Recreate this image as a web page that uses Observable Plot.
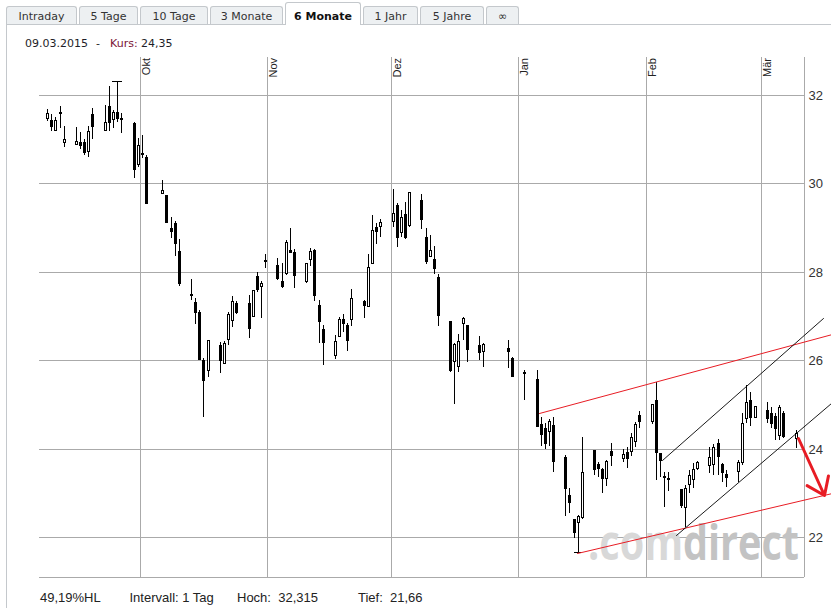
<!DOCTYPE html>
<html><head><meta charset="utf-8">
<script src="https://cdn.jsdelivr.net/npm/d3@7"></script>
<script src="https://cdn.jsdelivr.net/npm/@observablehq/plot@0.6"></script>
<style>
body{margin:0;background:#fff;width:831px;height:608px;overflow:hidden;position:relative;font-family:"DejaVu Sans",Verdana,sans-serif;}
#chart{position:absolute;left:0;top:0;}
.tab{position:absolute;top:6px;height:18px;box-sizing:border-box;border:1px solid #c4c8cc;border-bottom:none;border-radius:3px 3px 0 0;background:#edf0f2;font-size:11px;line-height:17px;padding-top:1px;text-align:center;color:#333;z-index:2;}
.tab.active{top:2px;height:23px;background:#fff;font-weight:bold;color:#111;padding-top:5px;z-index:4;}
.ptop{position:absolute;left:6px;right:0;top:24px;height:0;border-top:1px solid #c4c8cc;z-index:3;}
.pleft{position:absolute;left:6px;top:24px;bottom:0;width:0;border-left:1px solid #c4c8cc;z-index:3;}
</style>
</head><body>
<div id="chart"></div>
<div class="ptop"></div><div class="pleft"></div>
<div class="tab" style="left:6px;width:71px">Intraday</div>
<div class="tab" style="left:79px;width:59px">5 Tage</div>
<div class="tab" style="left:140px;width:68px">10 Tage</div>
<div class="tab" style="left:210px;width:73px">3 Monate</div>
<div class="tab active" style="left:285px;width:76px">6 Monate</div>
<div class="tab" style="left:363px;width:55px">1 Jahr</div>
<div class="tab" style="left:420px;width:64px">5 Jahre</div>
<div class="tab" style="left:486px;width:33px">∞</div>
<script>
// ---- data ----
const dates = ["2014-09-08","2014-09-09","2014-09-10","2014-09-11","2014-09-12",
"2014-09-15","2014-09-16","2014-09-17","2014-09-18","2014-09-19",
"2014-09-22","2014-09-23","2014-09-24","2014-09-25","2014-09-26",
"2014-09-29","2014-09-30","2014-10-01","2014-10-02",
"2014-10-06","2014-10-07","2014-10-08","2014-10-09","2014-10-10",
"2014-10-13","2014-10-14","2014-10-15","2014-10-16","2014-10-17",
"2014-10-20","2014-10-21","2014-10-22","2014-10-23","2014-10-24",
"2014-10-27","2014-10-28","2014-10-29","2014-10-30","2014-10-31",
"2014-11-03","2014-11-04","2014-11-05","2014-11-06","2014-11-07",
"2014-11-10","2014-11-11","2014-11-12","2014-11-13","2014-11-14",
"2014-11-17","2014-11-18","2014-11-19","2014-11-20","2014-11-21",
"2014-11-24","2014-11-25","2014-11-26","2014-11-27","2014-11-28",
"2014-12-01","2014-12-02","2014-12-03","2014-12-04","2014-12-05",
"2014-12-08","2014-12-09","2014-12-10","2014-12-11","2014-12-12",
"2014-12-15","2014-12-16","2014-12-17","2014-12-18","2014-12-19",
"2014-12-22","2014-12-23","2014-12-29","2014-12-30",
"2015-01-02","2015-01-05","2015-01-06","2015-01-07","2015-01-08","2015-01-09",
"2015-01-12","2015-01-13","2015-01-14","2015-01-15","2015-01-16",
"2015-01-19","2015-01-20","2015-01-21","2015-01-22","2015-01-23",
"2015-01-26","2015-01-27","2015-01-28","2015-01-29","2015-01-30",
"2015-02-02","2015-02-03","2015-02-04","2015-02-05","2015-02-06",
"2015-02-09","2015-02-10","2015-02-11","2015-02-12","2015-02-13",
"2015-02-16","2015-02-17","2015-02-18","2015-02-19","2015-02-20",
"2015-02-23","2015-02-24","2015-02-25","2015-02-26","2015-02-27",
"2015-03-02","2015-03-03","2015-03-04","2015-03-05","2015-03-06","2015-03-09"];
const open = [31.46,31.43,31.19,31.62,30.91, 30.88,30.94,30.94,30.70,31.57, 31.19,31.75,31.43,31.62,31.43,
31.36,30.41,30.68,30.59, 29.75,29.74,28.98,29.11,28.48, 27.50,27.31,27.10,26.00,25.76,
26.34,25.91,26.45,26.89,27.30, 27.29,26.98,27.90,27.65,28.27, 28.15,27.80,27.94,28.49,28.44,
27.78,28.27,28.49,27.25,26.71, 26.10,26.52,26.93,26.80,26.91, 27.34,27.21,28.17,29.02,29.02,
29.12,29.51,28.87,29.30,29.04, 29.62,28.78,28.33,28.28,27.88, 26.89,25.97,25.85,26.81,26.80,
26.34,26.19,26.27,26.04, 25.73,25.57,24.56,24.46,24.37,24.53, 23.82,22.95,22.40,22.31,22.42,
23.97,23.65,23.54,23.31,23.95, 23.76,23.93,23.93,24.14,24.75, 24.60,25.10,23.89,23.38,23.33,
23.09,22.65,23.18,23.29,23.53, 23.61,23.63,24.12,23.65,23.42, 23.46,23.67,24.66,25.11,24.69,
24.87,24.81,24.74,24.28,24.81,24.21];
const high = [31.68,31.56,31.50,31.75,31.30, 31.27,31.16,31.01,31.30,31.70, 31.77,32.20,31.66,32.315,31.59,
31.40,31.02,31.10,30.65, 30.08,29.74,29.23,29.15,28.74, 27.84,27.40,27.14,26.06,26.45,
26.42,26.44,27.10,27.45,27.35, 27.48,27.59,27.99,27.80,28.40, 28.31,28.19,28.72,28.98,28.51,
28.19,28.53,28.52,27.36,26.80, 26.57,26.97,27.05,26.84,27.61, 27.36,28.40,29.29,29.11,29.19,
29.87,29.55,29.40,29.57,29.80, 29.76,28.98,28.83,28.58,27.95, 26.89,26.38,26.59,26.98,26.80,
26.55,26.40,26.46,26.07, 25.78,25.78,24.72,24.57,24.67,24.72, 23.86,23.10,22.40,22.50,24.26,
23.97,23.70,23.56,23.74,24.12, 23.98,24.04,24.35,24.61,24.84, 25.02,25.51,23.89,23.48,23.48,
23.09,23.18,23.52,23.67,23.71, 24.04,24.10,24.21,23.67,23.52, 23.74,24.80,25.44,25.29,24.96,
25.06,24.95,24.80,24.99,24.84,24.42];
const low = [31.41,31.19,31.19,31.25,30.83, 30.88,30.77,30.64,30.60,31.01, 31.19,31.19,31.25,31.40,31.13,
30.12,30.38,30.57,29.53, 29.75,29.10,28.77,28.36,27.68, 27.36,26.83,26.00,24.72,25.63,
25.72,25.91,26.34,26.76,27.05, 26.51,26.98,27.55,26.96,28.09, 27.81,27.63,27.93,28.42,27.63,
27.75,28.14,27.35,26.40,25.89, 26.03,26.52,26.63,26.21,26.78, 26.96,27.21,28.17,28.63,28.78,
29.02,28.57,28.79,28.74,29.02, 28.97,28.17,28.33,27.95,26.78, 25.73,25.02,25.74,26.46,25.97,
26.00,25.85,25.82,25.61, 25.10,24.50,24.06,23.99,24.07,23.48, 22.48,22.55,21.98,21.66,22.40,
23.40,23.36,22.99,23.16,23.61, 23.69,23.57,23.83,24.03,24.46, 24.56,23.29,23.36,22.69,23.05,
22.65,22.23,22.99,23.10,23.51, 23.44,23.40,23.40,23.25,23.14, 23.25,23.63,24.59,24.51,24.69,
24.59,24.46,24.19,24.19,24.23,24.01];
const close = [31.59,31.27,31.43,31.58,31.00, 30.96,30.85,30.68,31.18,31.28, 31.39,31.36,31.62,31.46,31.49,
30.30,30.86,30.64,29.53, 29.86,29.10,28.91,28.62,27.72, 27.46,27.07,26.00,25.54,26.45,
25.99,26.39,27.05,27.33,27.07, 26.70,27.59,27.59,27.75,28.23, 27.83,27.66,28.68,28.43,27.91,
28.19,28.47,27.46,26.87,26.40, 26.43,26.93,26.82,26.44,27.40, 27.23,28.10,28.95,28.89,29.12,
29.34,28.76,29.25,28.76,29.80, 29.17,28.23,28.49,28.06,27.01, 25.76,26.37,26.43,26.95,26.23,
26.17,26.37,26.19,25.63, 25.69,24.50,24.31,24.10,24.62,23.70, 23.08,22.76,22.08,22.48,23.48,
23.52,23.54,23.31,23.72,23.84, 23.87,23.76,24.26,24.56,24.60, 25.02,23.89,23.73,23.33,23.28,
22.70,23.10,23.40,23.53,23.69, 23.80,24.04,23.80,23.45,23.33, 23.69,24.59,25.06,24.69,24.96,
24.66,24.55,24.44,24.93,24.26,24.35];

const monthStarts = ["2014-10-01","2014-11-01","2014-12-01","2015-01-01","2015-02-01","2015-03-01"];
const monthNames = ["Okt","Nov","Dez","Jan","Feb","Mär"];
const yTicks = [22, 24, 26, 28, 30, 32];
const xDomain = ["2014-09-06T12:20:00Z", "2015-03-11T12:43:00Z"];
const yDomain = [21.095, 32.86];

// trend lines: [date, price] endpoints
const redUpper   = [["2015-01-06T04:00:00Z", 24.80], ["2015-03-18T06:30:00Z", 26.59]];
const redLower   = [["2015-01-15T06:15:00Z", 21.63], ["2015-03-18T06:30:00Z", 22.99]];
const blackUpper = [["2015-02-04T22:20:00Z", 23.74], ["2015-03-16T02:00:00Z", 26.95]];
const blackLower = [["2015-02-08T10:50:00Z", 22.045], ["2015-03-18T02:25:00Z", 25.04]];
const arrowPts   = [["2015-03-10T03:20:00Z", 24.23], ["2015-03-16T09:20:00Z", 22.95]];

const headerDate = "09.03.2015", headerKurs = "24,35";
const footer = ["49,19%HL", "Intervall: 1 Tag", "Hoch:  32,315", "Tief:  21,66"];

// ---- build ----
const candles = dates.map((d, i) => ({date: new Date(d + "T12:00:00Z"), open: open[i], high: high[i], low: low[i], close: close[i]}));
const up = candles.filter(d => d.close >= d.open);
const down = candles.filter(d => d.close < d.open);
const DAY = 864e5;
const hi = d3.greatest(candles, d => d.high);
const lo = d3.least(candles, d => d.low);
const pt = p => ({x: new Date(p[0]), y: p[1]});
const RED = "#e81c24";

const chart = Plot.plot({
  width: 831, height: 608,
  marginTop: 57, marginBottom: 31, marginLeft: 39, marginRight: 27,
  style: {background: "white", fontFamily: "'Liberation Sans', Arial, sans-serif", fontSize: "13px", color: "#333", overflow: "visible"},
  x: {type: "utc", domain: xDomain.map(d => new Date(d)), round: true, axis: null},
  y: {domain: yDomain, round: true, axis: "right", ticks: yTicks, tickSize: 0, tickPadding: 4, tickFormat: d => String(d), label: null},
  marks: [
    Plot.ruleY(yTicks, {stroke: "#aaa"}),
    Plot.ruleX(monthStarts, {x: d => new Date(d + "T00:00:00Z"), stroke: "#aaa"}),
    Plot.ruleY([yDomain[0]], {stroke: "#aaa"}),
    Plot.ruleX([new Date(xDomain[1])], {stroke: "#aaa"}),
    Plot.text(monthStarts, {x: d => new Date(d + "T00:00:00Z"), text: (d, i) => monthNames[i], frameAnchor: "top", rotate: -90, textAnchor: "end", lineAnchor: "middle", dx: 5.5, dy: 0.5, fontSize: 11, fill: "#222"}),
    Plot.ruleX(candles, {x: "date", y1: "low", y2: "high", stroke: "#010101", strokeWidth: 1}),
    Plot.ruleY([hi], {y: "high", x1: d => new Date(+d.date - 1.3 * DAY), x2: d => new Date(+d.date + 1.3 * DAY), stroke: "#000"}),
    Plot.ruleY([lo], {y: "low", x1: d => new Date(+d.date - 0.9 * DAY), x2: d => new Date(+d.date + 0.8 * DAY), stroke: "#000"}),
    Plot.ruleX(down, {x: "date", y1: "open", y2: "close", stroke: "#000", strokeWidth: 3}),
    Plot.ruleX(up, {x: "date", y1: "close", y2: "open", stroke: "#000", strokeWidth: 3}),
    Plot.ruleX(up, {x: "date", y1: "close", y2: "open", stroke: "#fff", strokeWidth: 1, insetTop: 1, insetBottom: 1}),
    Plot.line(redUpper.map(pt), {x: "x", y: "y", stroke: RED, strokeWidth: 1}),
    Plot.line(redLower.map(pt), {x: "x", y: "y", stroke: RED, strokeWidth: 1}),
    Plot.line(blackUpper.map(pt), {x: "x", y: "y", stroke: "#000", strokeWidth: 0.9}),
    Plot.line(blackLower.map(pt), {x: "x", y: "y", stroke: "#000", strokeWidth: 0.9}),
    Plot.arrow([arrowPts], {x1: d => new Date(d[0][0]), y1: d => d[0][1], x2: d => new Date(d[1][0]), y2: d => d[1][1], stroke: RED, strokeWidth: 3, headAngle: 72, headLength: 10})
  ]
});
document.getElementById("chart").appendChild(chart);

const svg = d3.select(chart);
// watermark behind the candles
const wickG = svg.select('g[stroke="#010101"]').node();
const wm = svg.insert("text", () => wickG)
  .attr("x", 588).attr("y", 560).attr("text-anchor", "start")
  .attr("textLength", 211).attr("lengthAdjust", "spacingAndGlyphs")
  .style("font", "bold 48px 'Open Sans', 'DejaVu Sans', sans-serif");
wm.append("tspan").attr("fill", "#d8d8d8").text(".com");
wm.append("tspan").attr("fill", "#c3c3c3").text("direct");

// header
const hg = svg.append("g").attr("text-anchor", "start").style("font", "11px 'DejaVu Sans', Verdana, sans-serif");
hg.append("text").attr("x", 25).attr("y", 47.3).attr("fill", "#1e1e28").text(headerDate);
hg.append("text").attr("x", 96).attr("y", 47.3).attr("fill", "#1e1e28").text("-");
const kt = hg.append("text").attr("x", 110).attr("y", 47.3).style("white-space", "pre");
kt.append("tspan").attr("fill", "#7b1436").text("Kurs: ");
kt.append("tspan").attr("fill", "#1e1e28").text(headerKurs);

// footer
const fg = svg.append("g").attr("text-anchor", "start").style("font", "13px 'Liberation Sans', Arial, sans-serif").style("white-space", "pre").attr("fill", "#222");
const fx = [40, 129.5, 237, 358];
footer.forEach((t, i) => fg.append("text").attr("x", fx[i]).attr("y", 601.5).text(t));
</script>
</body></html>
